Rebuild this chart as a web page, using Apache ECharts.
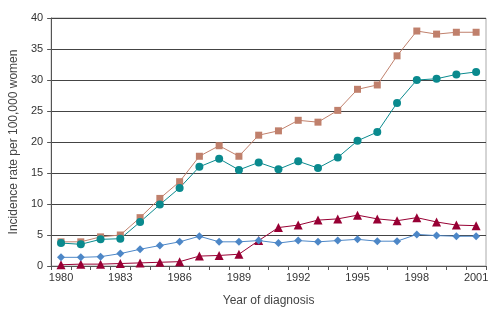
<!DOCTYPE html>
<html>
<head>
<meta charset="utf-8">
<script src="https://cdn.jsdelivr.net/npm/echarts@6/dist/echarts.min.js"></script>
<style>html,body{margin:0;padding:0;background:#fff;}#c{width:500px;height:324px;}</style>
</head>
<body>
<div id="c"></div>
<script>
var years = ['1980','1981','1982','1983','1984','1985','1986','1987','1988','1989','1990','1991','1992','1993','1994','1995','1996','1997','1998','1999','2000','2001'];
var seriesSquares = [3.9,3.9,4.7,5.0,7.8,10.9,13.6,17.7,19.4,17.7,21.1,21.8,23.5,23.2,25.1,28.5,29.2,33.9,37.9,37.4,37.7,37.7];
var seriesCircles = [3.7,3.5,4.3,4.4,7.1,9.9,12.6,16.0,17.3,15.5,16.7,15.6,16.9,15.8,17.5,20.2,21.6,26.3,30.0,30.2,30.9,31.3];
var seriesTriangles = [0.2,0.3,0.3,0.4,0.5,0.6,0.7,1.6,1.7,1.9,4.1,6.2,6.6,7.4,7.6,8.2,7.6,7.3,7.8,7.1,6.6,6.5];
var seriesDiamonds = [1.4,1.4,1.5,2.0,2.7,3.3,3.9,4.8,3.9,3.9,4.1,3.7,4.1,3.9,4.1,4.3,4.0,4.0,5.1,4.9,4.8,4.8];
var yTicks = {min: 0, max: 40, interval: 5};

var chart = echarts.init(document.getElementById('c'), null, {renderer: 'canvas'});
var font = 'Liberation Sans, Arial, sans-serif';
function mk(data, color, symbol, size) {
  return {
    type: 'line', data: data, symbol: symbol, symbolSize: size,
    showSymbol: true, animation: false,
    lineStyle: {color: color, width: 1},
    itemStyle: {color: color, borderWidth: 0}
  };
}
chart.setOption({
  animation: false,
  grid: {left: 46, right: 14, top: 18, bottom: 58, show: true, borderColor: '#aaaaaa', borderWidth: 1},
  xAxis: {
    type: 'category', data: years, boundaryGap: true,
    name: 'Year of diagnosis', nameLocation: 'middle', nameGap: 29,
    nameTextStyle: {fontFamily: font, fontSize: 12, color: '#444'},
    axisLine: {lineStyle: {color: '#555', width: 1}},
    axisTick: {show: true, interval: 0, length: 4, lineStyle: {color: '#555'}},
    axisLabel: {interval: 2, fontFamily: font, fontSize: 11, color: '#333', margin: 6}
  },
  yAxis: {
    type: 'value', min: yTicks.min, max: yTicks.max, interval: yTicks.interval,
    name: 'Incidence rate per 100,000 women', nameLocation: 'middle', nameGap: 31,
    nameTextStyle: {fontFamily: font, fontSize: 12, color: '#444'},
    axisLine: {show: true, lineStyle: {color: '#555', width: 1}},
    axisTick: {show: true, length: 4, lineStyle: {color: '#555'}},
    axisLabel: {fontFamily: font, fontSize: 11, color: '#333', margin: 8},
    splitLine: {show: true, lineStyle: {color: '#444', width: 1}}
  },
  series: [
    mk(seriesSquares, '#c0806c', 'rect', 7),
    mk(seriesCircles, '#0a8a8e', 'circle', 8),
    mk(seriesTriangles, '#980034', 'triangle', 9),
    mk(seriesDiamonds, '#4d87c7', 'diamond', 8)
  ]
});
</script>
</body>
</html>
